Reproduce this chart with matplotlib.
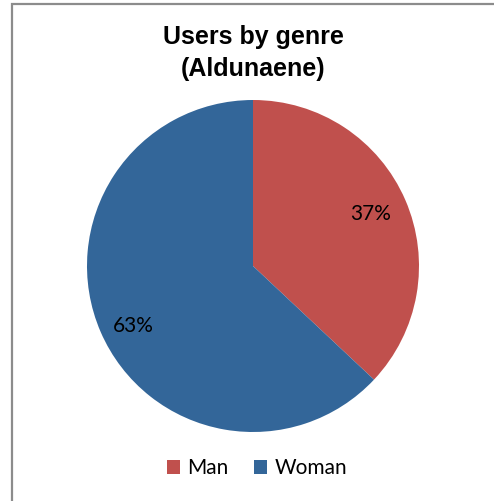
import numpy as np
import matplotlib.pyplot as plt
from matplotlib.patches import Rectangle, Patch

labels = ["Man", "Woman"]
shares = [37, 63]
colors = ["#C0504D", "#336699"]

# percent label placement: distance from centre, angle nudge (deg)
label_dist = [0.777, 0.808]
label_nudge = [0.4, 3.2]

fig = plt.figure(figsize=(4.94, 5.01), dpi=100)

# chart area frame (runs off the right and bottom edges)
fig.patches.append(Rectangle((12 / 494, -0.05), 1.1, (501 - 4) / 501 + 0.05,
                             transform=fig.transFigure, fill=False,
                             edgecolor="#8c8c8c", linewidth=1.6))

fig.text(253 / 494, 1 - 53 / 501, "Users by genre\n(Aldunaene)", ha="center", va="center",
         fontsize=18, fontweight="bold", family="Liberation Sans", linespacing=1.4)

r = 166
cx, cy = 253, 266
ax = fig.add_axes([(cx - r) / 494, 1 - (cy + r) / 501, 2 * r / 494, 2 * r / 501])
wedges, _ = ax.pie(shares, colors=colors, startangle=90, counterclock=False)
for w, v, d, n in zip(wedges, shares, label_dist, label_nudge):
    a = np.deg2rad((w.theta1 + w.theta2) / 2 + n)
    ax.text(d * np.cos(a), d * np.sin(a), f"{v}%", ha="center", va="center",
            fontsize=15, family="Lato", color="black")
ax.set_xlim(-1, 1)
ax.set_ylim(-1, 1)
ax.set_aspect("auto")
ax.axis("off")

handles = [Patch(facecolor=c, edgecolor="none") for c in colors]
fig.legend(handles, labels, loc="center", bbox_to_anchor=(257 / 494, 1 - 468 / 501),
           ncol=2, frameon=False, prop=dict(family="Lato", size=15),
           handlelength=0.65, handleheight=0.65, handletextpad=0.35, columnspacing=1.2)

fig.savefig("out.png", dpi=100)
